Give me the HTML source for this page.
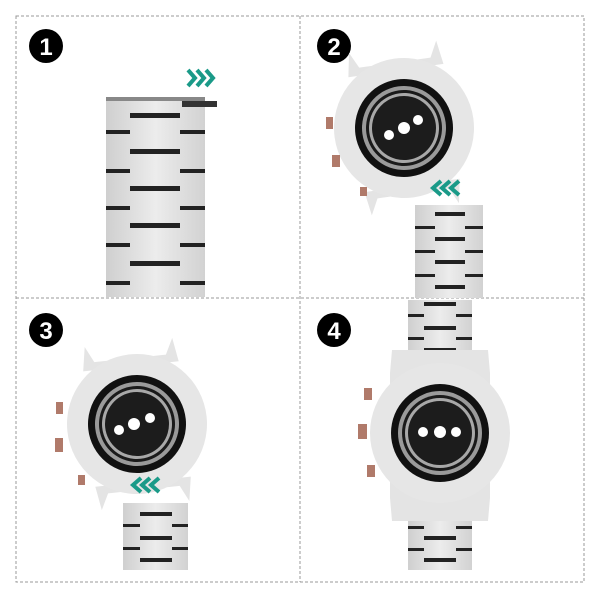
<!DOCTYPE html>
<html><head><style>html,body{margin:0;padding:0;background:#fff}svg{display:block}</style></head>
<body>
<svg width="600" height="600" viewBox="0 0 600 600" xmlns="http://www.w3.org/2000/svg">
<defs>
<linearGradient id="met" x1="0" x2="1" y1="0" y2="0">
<stop offset="0" stop-color="#cfcfcf"/><stop offset="0.5" stop-color="#ececec"/><stop offset="1" stop-color="#d2d2d2"/>
</linearGradient>
<g id="case">
<path d="M-48,-58 L-44,-82 L-36,-66 L36,-66 L44,-82 L48,-58 Z" fill="#e4e4e4"/>
<path d="M-48,58 L-44,82 L-36,66 L36,66 L44,82 L48,58 Z" fill="#e4e4e4"/>
<circle r="70" fill="#e6e6e6"/>
<circle r="49" fill="#111"/>
<circle r="42" fill="#9a9a9a"/>
<circle r="38" fill="#1a1a1a"/>
<circle r="35" fill="#a8a8a8"/>
<circle r="32" fill="#1c1c1c"/>
</g>
</defs>
<g fill="none" stroke="#999" stroke-width="1" stroke-dasharray="3,2">
<rect x="16" y="16" width="568" height="566"/>
<line x1="300" y1="16" x2="300" y2="582"/>
<line x1="16" y1="298" x2="584" y2="298"/>
</g>
<!-- Panel 1 band -->
<rect x="106" y="97" width="99" height="200" fill="url(#met)"/>
<rect x="106" y="97" width="99" height="4" fill="#888"/>
<rect x="182" y="101" width="35" height="6" fill="#333"/>
<g fill="#222">
<rect x="130" y="113" width="50" height="5"/><rect x="130" y="149" width="50" height="5"/><rect x="130" y="186" width="50" height="5"/><rect x="130" y="223" width="50" height="5"/><rect x="130" y="261" width="50" height="5"/>
<rect x="106" y="130" width="24" height="4"/><rect x="106" y="169" width="24" height="4"/><rect x="106" y="206" width="24" height="4"/><rect x="106" y="243" width="24" height="4"/><rect x="106" y="281" width="24" height="4"/>
<rect x="180" y="130" width="25" height="4"/><rect x="180" y="169" width="25" height="4"/><rect x="180" y="206" width="25" height="4"/><rect x="180" y="243" width="25" height="4"/><rect x="180" y="281" width="25" height="4"/>
</g>
<g fill="none" stroke="#1a9a88" stroke-width="4"><path d="M188,70 l7,8 l-7,8 M197,70 l7,8 l-7,8 M206,70 l7,8 l-7,8"/></g>
<!-- numbers -->
<g fill="#000"><circle cx="46" cy="46" r="17"/><circle cx="334" cy="46" r="17"/><circle cx="46" cy="330" r="17"/><circle cx="334" cy="330" r="17"/></g>
<g fill="#fff" font-family="Liberation Sans, sans-serif" font-weight="bold" font-size="24" text-anchor="middle">
<text x="46" y="55">1</text><text x="334" y="55">2</text><text x="46" y="339">3</text><text x="334" y="339">4</text></g>
<!-- Panel 2 -->
<rect x="415" y="205" width="68" height="93" fill="url(#met)"/>
<g fill="#222"><rect x="435" y="212" width="30" height="4"/><rect x="435" y="237" width="30" height="4"/><rect x="435" y="260" width="30" height="4"/><rect x="435" y="285" width="30" height="4"/>
<rect x="415" y="226" width="20" height="3"/><rect x="465" y="226" width="18" height="3"/><rect x="415" y="250" width="20" height="3"/><rect x="465" y="250" width="18" height="3"/><rect x="415" y="274" width="20" height="3"/><rect x="465" y="274" width="18" height="3"/></g>
<g transform="translate(404,128) rotate(-8)"><use href="#case"/></g>
<g fill="#fff"><circle cx="389" cy="135" r="5"/><circle cx="404" cy="128" r="6"/><circle cx="418" cy="120" r="5"/></g>
<g fill="#b07a6a"><rect x="326" y="117" width="7" height="12"/><rect x="332" y="155" width="8" height="12"/><rect x="360" y="187" width="7" height="9"/></g>
<g fill="none" stroke="#1a9a88" stroke-width="4"><path d="M441,181 l-8,7 l8,7 M450,181 l-8,7 l8,7 M459,181 l-8,7 l8,7"/></g>
<!-- Panel 3 -->
<rect x="123" y="503" width="65" height="67" fill="url(#met)"/>
<g fill="#222"><rect x="140" y="512" width="32" height="4"/><rect x="140" y="536" width="32" height="4"/><rect x="140" y="558" width="32" height="4"/>
<rect x="123" y="524" width="17" height="3"/><rect x="172" y="524" width="16" height="3"/><rect x="123" y="547" width="17" height="3"/><rect x="172" y="547" width="16" height="3"/></g>
<g transform="translate(137,424) rotate(-6)"><use href="#case"/></g>
<g fill="#fff"><circle cx="119" cy="430" r="5"/><circle cx="134" cy="424" r="6"/><circle cx="150" cy="418" r="5"/></g>
<g fill="#b07a6a"><rect x="56" y="402" width="7" height="12"/><rect x="55" y="438" width="8" height="14"/><rect x="78" y="475" width="7" height="10"/></g>
<g fill="none" stroke="#1a9a88" stroke-width="4"><path d="M141,478 l-8,7 l8,7 M150,478 l-8,7 l8,7 M159,478 l-8,7 l8,7"/></g>
<!-- Panel 4 -->
<rect x="408" y="300" width="64" height="270" fill="url(#met)"/>
<g fill="#222"><rect x="424" y="302" width="32" height="4"/><rect x="424" y="326" width="32" height="4"/><rect x="424" y="348" width="32" height="4"/>
<rect x="408" y="314" width="16" height="3"/><rect x="456" y="314" width="16" height="3"/><rect x="408" y="337" width="16" height="3"/><rect x="456" y="337" width="16" height="3"/>
<rect x="424" y="514" width="32" height="4"/><rect x="424" y="536" width="32" height="4"/><rect x="424" y="558" width="32" height="4"/>
<rect x="408" y="526" width="16" height="3"/><rect x="456" y="526" width="16" height="3"/><rect x="408" y="548" width="16" height="3"/><rect x="456" y="548" width="16" height="3"/></g>
<g transform="translate(440,433)"><path d="M-48,-83 L48,-83 L50,-60 L50,65 L48,88 L-48,88 L-50,65 L-50,-60 Z" fill="#e4e4e4"/>
<circle r="70" fill="#e6e6e6"/>
<circle r="49" fill="#111"/><circle r="42" fill="#9a9a9a"/><circle r="38" fill="#1a1a1a"/><circle r="35" fill="#a8a8a8"/><circle r="32" fill="#1c1c1c"/></g>
<g fill="#fff"><circle cx="423" cy="432" r="5"/><circle cx="440" cy="432" r="6"/><circle cx="456" cy="432" r="5"/></g>
<g fill="#b07a6a"><rect x="364" y="388" width="8" height="12"/><rect x="358" y="424" width="9" height="15"/><rect x="367" y="465" width="8" height="12"/></g>
</svg>
</body></html>
